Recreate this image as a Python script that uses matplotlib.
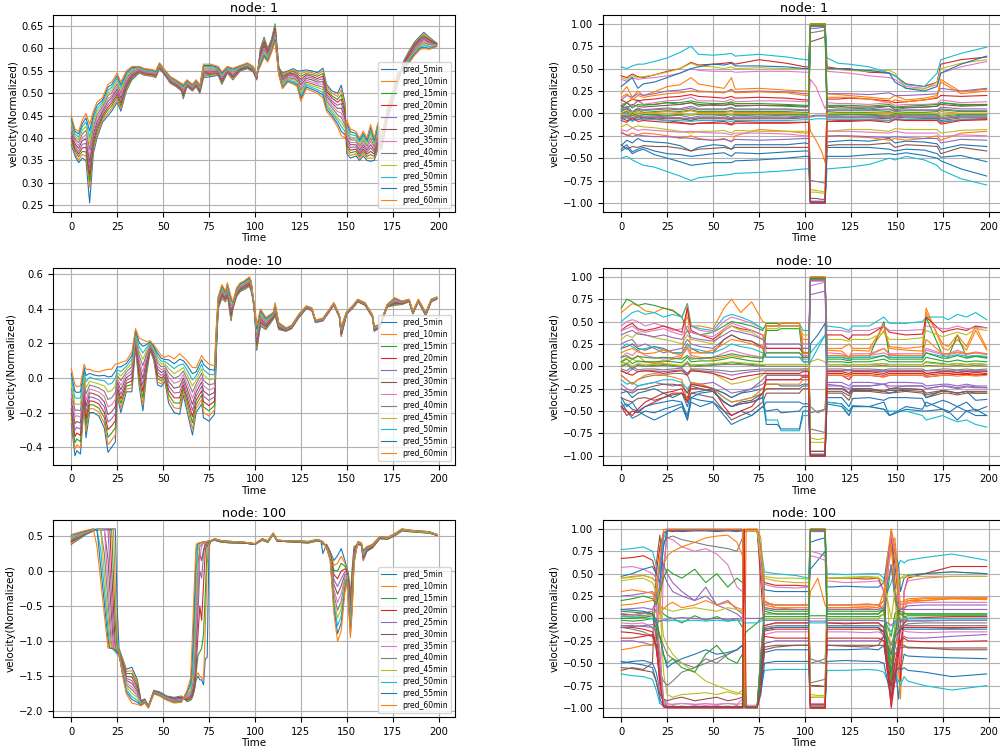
import numpy as np
import matplotlib.pyplot as plt

# legend labels of the 12 prediction horizons
horizons = ['pred_5min', 'pred_10min', 'pred_15min', 'pred_20min', 'pred_25min', 'pred_30min',
            'pred_35min', 'pred_40min', 'pred_45min', 'pred_50min', 'pred_55min', 'pred_60min']

# ---------------- node 1 : predictions (values x1000) ----------------
node1_time = [0, 2, 4, 6, 8, 10, 12, 14, 17, 20, 22, 25, 27, 30, 33, 37, 40, 44, 46, 48, 51, 54, 57, 60, 61,
              63, 66, 68, 70, 72, 76, 80, 82, 85, 88, 92, 96, 99, 101, 103, 105, 107, 109, 111, 113, 115, 118,
              121, 123, 125, 128, 131, 134, 137, 139, 142, 145, 147, 149, 150, 152, 155, 157, 159, 161, 163,
              165, 167, 169, 172, 175, 178, 181, 184, 187, 190, 192, 195, 199]
node1_pred = [
    "385 360 345 355 350 255 365 400 435 450 460 480 460 505 530 545 540 538 535 555 540 522 515 505 488 515 505 515 500 535 537 540 520 545 530 550 555 548 530 600 625 600 620 655 558 545 550 555 550 550 552 550 546 556 520 505 500 518 480 365 355 360 350 360 350 348 350 375 375 440 480 525 572 595 615 628 636 625 612",
    "391 365 351 363 360 290 374 407 440 456 466 486 466 509 533 546 541 539 536 556 541 523 516 507 491 516 506 516 502 538 540 542 523 546 532 551 556 549 531 596 621 597 617 651 556 542 548 552 547 544 548 546 542 550 515 500 493 508 473 372 361 365 355 365 355 355 355 380 377 442 482 527 570 593 612 625 633 623 611",
    "397 371 358 370 369 304 382 415 445 463 472 492 472 513 535 548 543 541 538 557 542 525 518 508 494 518 508 518 503 540 542 544 525 548 535 552 557 550 533 593 617 595 615 648 555 539 545 549 544 538 544 542 538 544 509 494 486 497 465 379 367 370 359 370 359 363 359 386 380 445 485 529 568 590 610 623 629 620 611",
    "403 376 364 378 379 318 391 422 450 469 478 498 478 517 538 549 544 542 539 559 543 526 519 510 497 519 509 519 505 543 545 545 528 549 537 553 559 551 534 589 613 592 612 644 553 535 543 545 540 531 541 538 533 538 504 489 480 487 458 385 373 375 364 375 364 370 364 391 382 447 487 531 567 588 607 620 626 618 610",
    "409 382 370 386 388 332 400 429 455 475 484 504 484 521 541 550 545 543 540 560 544 527 520 511 500 520 510 520 507 546 547 547 530 550 539 554 560 552 535 585 609 589 609 640 551 532 541 542 537 525 537 534 529 532 498 483 473 477 451 392 379 380 368 380 368 378 368 397 384 449 489 533 565 585 604 617 623 615 609",
    "415 387 377 394 398 346 408 436 460 482 490 510 490 525 544 552 547 545 542 561 545 529 522 513 503 522 512 522 508 549 550 549 533 552 542 555 561 553 537 582 605 586 606 637 550 529 539 539 534 519 533 530 525 526 493 478 466 467 444 399 385 385 373 385 373 385 373 402 386 451 491 535 563 583 601 614 620 613 608",
    "420 393 383 401 407 360 417 444 465 488 495 515 495 530 546 553 548 546 543 562 547 530 523 514 505 523 513 523 510 551 552 551 535 553 544 557 562 555 538 578 600 584 604 633 548 526 536 536 531 513 529 525 521 520 487 472 459 456 436 406 390 390 377 390 377 393 377 408 389 454 494 538 561 580 599 612 616 610 608",
    "426 398 390 409 417 374 425 451 470 495 501 521 501 534 549 555 550 548 545 563 548 532 525 516 508 525 515 525 511 554 555 553 538 555 547 558 563 556 540 575 596 581 601 630 547 523 534 533 528 507 525 521 517 514 482 467 452 446 429 413 396 395 382 395 382 400 382 413 391 456 496 540 559 578 596 609 613 608 607",
    "432 404 396 417 426 388 434 458 475 501 507 527 507 538 552 556 551 549 546 564 549 533 526 517 511 526 516 526 513 557 557 555 540 556 549 559 564 557 541 571 592 578 598 626 545 520 532 530 525 501 521 517 513 508 476 461 445 436 422 420 402 400 386 400 386 408 386 419 393 458 498 542 557 575 593 606 610 605 606",
    "438 409 402 425 436 402 443 465 480 507 513 533 513 542 555 557 552 550 547 566 550 534 527 519 514 527 517 527 515 560 560 556 543 557 551 560 566 558 542 567 588 575 595 622 543 516 530 526 521 494 518 513 508 502 471 456 439 426 415 426 408 405 391 405 391 415 391 424 395 460 500 544 555 573 590 603 607 603 605",
    "444 415 409 432 445 416 451 473 485 514 519 539 519 546 557 559 554 552 549 567 551 536 529 520 517 529 519 529 516 562 562 558 545 559 554 561 567 559 544 564 584 573 593 619 542 513 527 523 518 488 514 509 504 496 465 450 432 415 407 433 414 410 395 410 395 423 395 430 398 463 503 546 554 570 588 601 603 600 605",
    "450 420 415 440 455 430 460 480 490 520 525 545 525 550 560 560 555 553 550 568 552 537 530 522 520 530 520 530 518 565 565 560 548 560 556 562 568 560 545 560 580 570 590 615 540 510 525 520 515 482 510 505 500 490 460 445 425 405 400 440 420 415 400 415 400 430 400 435 400 465 505 548 552 568 585 598 600 598 604",
]

# ---------------- node 10 : predictions (values x1000) ----------------
node10_time = [0, 2, 3, 5, 7, 8, 10, 12, 15, 18, 20, 22, 24, 25, 27, 30, 33, 35, 37, 39, 41, 43, 45, 47, 49, 51,
               53, 56, 59, 61, 63, 66, 68, 71, 72, 75, 78, 79, 80, 82, 84, 85, 87, 88, 90, 92, 94, 97, 98, 99,
               100, 101, 103, 106, 110, 111, 113, 117, 120, 124, 128, 131, 133, 137, 141, 143, 146, 147, 150,
               153, 156, 160, 164, 165, 168, 172, 176, 180, 184, 186, 189, 193, 196, 199]
node10_pred = [
    "-265 -450 -420 -440 -150 -345 -200 -200 -220 -290 -430 -400 -370 -100 -200 -80 -80 180 -50 -190 20 160 100 -40 -50 -20 -145 -200 -210 -100 -190 -330 -200 -150 -230 -250 -210 150 400 460 440 480 330 400 470 500 510 530 500 450 350 160 300 280 340 360 280 270 285 350 400 390 320 330 390 420 350 240 370 400 440 420 350 270 290 410 420 425 440 370 440 360 440 455",
    "-236 -413 -386 -404 -129 -309 -177 -178 -197 -260 -386 -359 -329 -84 -174 -64 -59 190 -25 -153 37 165 108 -22 -34 -7 -120 -172 -178 -80 -164 -295 -176 -125 -199 -220 -185 164 406 467 445 486 343 404 475 505 515 535 505 452 355 173 309 286 344 367 284 272 287 352 402 391 321 331 391 421 351 245 371 401 441 421 351 273 292 411 424 427 441 371 441 362 441 456",
    "-207 -375 -353 -368 -108 -273 -155 -156 -174 -229 -343 -318 -288 -67 -147 -47 -38 199 1 -115 55 170 116 -4 -17 5 -95 -144 -146 -60 -137 -259 -153 -99 -168 -190 -159 177 413 475 451 493 355 407 479 509 519 540 511 454 359 185 318 293 347 374 287 274 289 354 403 393 323 333 393 423 353 251 373 403 443 423 353 275 294 413 428 429 443 373 443 364 443 457",
    "-178 -338 -319 -332 -87 -237 -132 -135 -150 -199 -299 -277 -247 -51 -121 -31 -17 209 26 -78 72 175 125 15 -1 18 -70 -115 -115 -40 -111 -224 -129 -74 -137 -160 -134 191 419 482 456 499 368 411 484 514 524 545 516 455 364 198 327 299 351 380 291 275 290 355 405 394 324 334 394 424 354 256 374 404 444 424 354 278 295 414 432 430 444 374 444 365 444 459",
    "-149 -301 -285 -296 -66 -201 -109 -113 -127 -168 -255 -236 -206 -35 -95 -15 4 218 52 -41 89 180 133 33 15 31 -45 -87 -83 -20 -85 -188 -105 -48 -106 -130 -108 205 425 489 462 505 381 415 488 518 528 550 522 457 368 211 336 305 355 387 295 277 292 357 406 395 325 335 395 425 355 262 375 405 445 425 355 281 297 415 436 432 445 375 445 367 445 460",
    "-120 -264 -252 -260 -45 -165 -86 -91 -104 -138 -212 -195 -165 -18 -68 2 25 228 77 -4 106 185 141 51 32 44 -20 -59 -51 0 -58 -153 -82 -23 -75 -100 -83 218 432 496 467 512 394 418 493 523 533 555 527 459 373 224 345 312 358 394 298 279 294 359 408 397 327 337 397 427 357 267 377 407 447 427 357 284 299 417 440 434 447 377 447 369 447 461",
    "-90 -226 -218 -225 -25 -130 -64 -69 -81 -107 -168 -155 -125 -2 -42 18 45 237 103 34 124 190 149 69 48 56 5 -31 -19 20 -32 -117 -58 3 -45 -70 -57 232 438 504 473 518 406 422 497 527 537 560 533 461 377 236 355 318 362 401 302 281 296 361 409 398 328 338 398 428 358 273 378 408 448 428 358 286 301 418 445 436 448 378 448 371 448 462",
    "-61 -189 -185 -189 -4 -94 -41 -47 -58 -77 -125 -114 -84 15 -15 35 66 247 128 71 141 195 157 87 65 69 30 -3 13 40 -5 -82 -35 28 -14 -40 -32 245 445 511 478 525 419 425 502 532 542 565 538 463 382 249 364 325 365 408 305 283 298 363 411 400 330 340 400 430 360 278 380 410 450 430 360 289 303 420 449 438 450 380 450 373 450 463",
    "-32 -152 -151 -153 17 -58 -18 -25 -35 -46 -81 -73 -43 31 11 51 87 256 154 108 158 200 165 105 81 82 55 25 45 60 21 -46 -11 54 17 -10 -6 259 451 518 484 531 432 429 506 536 546 570 544 465 386 262 373 331 369 415 309 285 300 365 412 401 331 341 401 431 361 284 381 411 451 431 361 292 305 421 453 440 451 381 451 375 451 464",
    "-3 -115 -117 -117 38 -22 5 -4 -11 -16 -37 -32 -2 47 37 67 108 266 179 145 175 205 174 124 97 95 80 54 76 80 47 -11 13 79 48 20 19 273 457 525 489 537 445 433 511 541 551 575 549 466 391 275 382 337 373 421 313 286 301 366 414 402 332 342 402 432 362 289 382 412 452 432 362 295 306 422 457 441 452 382 452 376 452 466",
    "26 -77 -84 -81 59 14 27 18 12 15 6 9 39 64 64 84 129 275 205 183 193 210 182 142 114 107 105 82 108 100 74 25 36 105 79 50 45 286 464 533 495 544 457 436 515 545 555 580 555 468 395 287 391 344 376 428 316 288 303 368 415 404 334 344 404 434 364 295 384 414 454 434 364 297 308 424 461 443 454 384 454 378 454 467",
    "55 -40 -50 -45 80 50 50 40 35 45 50 50 80 80 90 100 150 285 230 220 210 215 190 160 130 120 130 110 140 120 100 60 60 130 110 80 70 300 470 540 500 550 470 440 520 550 560 585 560 470 400 300 400 350 380 435 320 290 305 370 417 405 335 345 405 435 365 300 385 415 455 435 365 300 310 425 465 445 455 385 455 380 455 468",
]

# ---------------- node 100 : predictions (values x100) ----------------
node100_time = [0, 4, 8, 12, 14, 16, 18, 20, 21, 22, 23, 24, 25, 26, 28, 30, 33, 36, 38, 40, 42, 45, 48, 52, 56,
                60, 63, 65, 66, 67, 68, 69, 70, 71, 72, 73, 74, 75, 76, 78, 82, 88, 94, 100, 104, 107, 110, 112,
                117, 123, 129, 134, 136, 137, 139, 141, 143, 145, 147, 149, 150, 151, 152, 153, 154, 156, 158,
                159, 161, 164, 168, 172, 176, 180, 185, 190, 195, 199]
node100_pred = [
    "38 45 52 57 60 60 60 60 60 60 60 60 -53 -110 -125 -140 -137 -155 -185 -182 -192 -170 -172 -178 -180 -178 -186 -184 -180 -170 -155 -150 -155 -155 -162 -125 -123 35 42 44 41 40 40 38 44 41 52 43 42 41 40 43 42 25 38 28 15 22 32 15 5 -5 -35 5 35 38 36 15 28 33 46 45 50 57 56 55 54 51",
    "39 46 53 57 59 59 59 59 59 59 59 -26 -110 -113 -127 -143 -142 -158 -186 -183 -192 -170 -173 -179 -181 -179 -185 -183 -178 -165 -150 -145 -150 -152 -155 -80 10 40 43 44 41 40 40 38 44 41 52 43 42 41 40 43 42 38 38 27 8 11 21 11 3 -9 -40 0 33 38 36 16 29 33 46 45 50 57 56 55 54 51",
    "41 47 53 58 59 59 59 59 59 59 -9 -77 -110 -115 -130 -146 -146 -161 -186 -183 -193 -171 -173 -179 -181 -180 -184 -182 -177 -170 -145 -120 -115 -110 -90 -30 35 42 43 44 41 40 40 38 44 41 52 43 42 41 40 43 42 38 37 26 1 0 11 7 1 -13 -46 -6 30 39 37 18 29 34 47 46 51 58 56 55 54 51",
    "42 48 54 58 59 59 59 59 59 2 -54 -110 -114 -117 -132 -150 -151 -165 -187 -184 -193 -171 -174 -180 -182 -180 -183 -180 -175 -165 -135 -90 -50 -70 -20 30 40 42 43 45 42 41 40 38 45 42 53 43 42 42 41 44 42 39 37 24 -5 -11 0 3 0 -17 -51 -11 28 39 37 19 30 34 47 46 51 58 57 56 55 51",
    "43 49 54 58 59 59 59 59 10 -38 -86 -110 -115 -118 -134 -153 -156 -168 -188 -184 -193 -171 -174 -180 -183 -181 -182 -179 -172 -160 -120 -60 0 -10 25 38 42 43 43 45 42 41 40 38 45 42 53 43 42 42 41 44 42 39 36 23 -12 -22 -11 -1 -2 -21 -57 -17 26 40 38 20 31 35 47 46 51 58 57 56 55 51",
    "44 50 55 58 59 59 59 17 -26 -68 -110 -113 -116 -120 -136 -156 -160 -171 -188 -185 -193 -172 -175 -181 -184 -182 -181 -177 -170 -155 -100 -30 25 15 30 40 42 43 43 45 42 41 40 38 45 42 53 43 42 42 41 44 42 40 36 22 -19 -33 -21 -5 -4 -25 -62 -22 24 40 38 22 31 35 47 46 51 58 57 56 55 51",
    "46 50 55 59 59 59 59 -17 -54 -92 -110 -113 -116 -120 -139 -159 -165 -174 -189 -185 -194 -173 -175 -181 -184 -183 -180 -175 -165 -145 -80 -20 20 35 40 41 42 43 43 45 42 41 41 39 45 42 53 44 43 42 41 44 43 40 35 21 -26 -45 -32 -10 -6 -30 -68 -28 21 40 38 23 32 36 48 47 52 59 57 56 55 52",
    "47 51 56 59 59 59 25 -43 -77 -110 -112 -115 -118 -120 -141 -162 -169 -177 -190 -186 -194 -173 -176 -182 -185 -184 -178 -172 -160 -130 -50 10 35 38 40 42 42 43 43 45 42 41 41 39 45 42 53 44 43 42 41 44 43 40 35 20 -33 -56 -43 -14 -8 -34 -73 -33 19 40 38 25 32 36 48 47 52 59 57 56 55 52",
    "48 52 56 59 59 59 -3 -65 -96 -110 -112 -115 -118 -120 -143 -165 -174 -180 -190 -186 -194 -173 -176 -182 -186 -185 -176 -170 -155 -110 -30 30 39 40 41 42 42 43 43 46 43 42 41 39 46 43 54 44 43 43 42 45 43 41 34 19 -40 -67 -53 -18 -9 -38 -79 -39 17 41 39 26 33 37 48 47 52 59 57 56 55 52",
    "49 53 57 59 59 31 -26 -82 -110 -110 -112 -115 -118 -120 -145 -169 -179 -184 -191 -187 -194 -174 -177 -183 -187 -185 -174 -165 -145 -80 0 38 40 41 41 42 42 43 43 46 43 42 41 39 46 43 54 44 43 43 42 45 43 41 34 17 -46 -78 -64 -22 -11 -42 -84 -44 15 41 39 27 34 37 48 47 52 59 58 57 56 52",
    "51 54 57 60 59 7 -46 -98 -110 -110 -110 -112 -115 -118 -148 -172 -183 -187 -191 -187 -195 -174 -177 -183 -187 -186 -172 -160 -120 -50 30 39 40 41 41 42 42 43 43 46 43 42 41 39 46 43 54 44 43 43 42 45 43 42 33 16 -53 -89 -74 -26 -13 -46 -90 -50 12 42 40 29 34 38 49 48 53 60 58 57 56 52",
    "52 55 58 60 35 -13 -62 -110 -100 -105 -110 -110 -112 -115 -150 -175 -188 -190 -192 -188 -195 -175 -178 -184 -188 -187 -170 -152 -90 -20 38 40 40 41 41 42 42 43 43 46 43 42 41 39 46 43 54 44 43 43 42 45 43 42 33 15 -60 -100 -85 -30 -15 -50 -95 -55 10 42 40 30 35 38 49 48 53 60 58 57 56 52",
]

# ---------------- node 1 : hidden units (values x100) ----------------
node1_unit_time = [0, 3, 6, 9, 12, 18, 25, 32, 38, 42, 50, 56, 60, 62, 75, 90, 100, 102, 103, 106, 109, 111, 112,
                   118, 124, 135, 146, 149, 155, 165, 172, 174, 185, 199]
node1_units = [
    "-36 -30 -33 -28 -31 -32 -33 -36 -42 -38 -35 -36 -40 -35 -35 -35 -33 -34 -99 -99 -99 -99 -32 -31 -30 -31 -28 -33 -31 -32 -34 -40 -35 -37",
    "22 30 18 25 20 24 30 32 40 33 30 28 40 27 28 26 25 25 99 99 99 99 22 21 20 18 16 20 15 17 20 38 24 27",
    "5 12 8 15 10 10 12 10 12 8 10 9 12 8 9 8 7 8 98 98 98 98 7 6 6 5 8 4 6 7 8 12 9 10",
    "42 40 44 41 40 43 47 50 57 54 55 56 57 55 60 56 52 52 100 100 100 100 52 50 50 46 45 42 33 30 35 55 60 63",
    "15 20 18 22 20 22 25 26 28 25 24 23 27 24 25 24 22 22 97 97 97 97 22 22 22 21 23 20 20 21 22 28 25 28",
    "-35 -40 -37 -38 -36 -37 -37 -39 -42 -40 -39 -38 -40 -38 -38 -38 -38 -38 -99 -99 -99 -99 -36 -35 -35 -35 -33 -38 -35 -36 -37 -45 -38 -42",
    "38 36 40 38 39 40 42 45 50 48 47 47 47 46 47 47 46 46 99 99 99 99 47 46 45 42 40 38 30 28 32 45 52 58",
    "-2 -5 0 -3 -1 -2 -3 -2 -5 -3 -3 -2 -5 -2 -3 -2 -2 -2 -75 -76 -77 -78 -2 -2 -1 -2 -3 -1 -2 -2 -2 -5 -2 -2",
    "40 38 42 40 41 43 46 50 56 53 52 50 52 50 51 50 50 50 99 99 99 99 49 49 48 47 48 45 28 27 35 50 56 60",
    "52 50 53 55 55 58 62 68 75 66 65 66 67 64 66 63 60 60 99 99 99 99 62 56 55 52 45 42 32 30 45 60 67 74",
    "30 35 40 28 33 35 40 45 50 52 55 54 56 53 53 52 50 50 100 100 100 100 50 50 49 48 45 35 28 25 30 45 55 64",
    "-20 -25 -22 -24 -22 -23 -25 -28 -25 -28 -30 -28 -32 -25 -18 -20 -22 -22 -99 -99 -99 -99 -25 -25 -26 -27 -30 -28 -30 -28 -25 -30 -22 -20",
    "2 5 0 4 1 2 3 2 4 2 2 2 3 2 2 2 1 1 100 100 100 100 2 1 1 1 2 0 1 1 2 4 2 2",
    "-5 -8 -6 -7 -5 -6 -8 -10 -12 -11 -10 -9 -12 -9 -10 -10 -10 -10 -100 -100 -100 -100 -9 -8 -8 -7 -8 -6 -7 -6 -6 -10 -7 -6",
    "-22 -24 -26 -24 -25 -26 -26 -27 -28 -29 -30 -29 -31 -29 -30 -29 -28 -28 -98 -98 -98 -98 -26 -25 -25 -26 -27 -26 -27 -28 -28 -33 -29 -30",
    "8 6 10 8 7 8 9 10 12 10 9 9 10 9 9 9 8 8 80 82 84 86 8 8 7 7 8 6 7 7 8 10 8 9",
    "10 12 8 14 10 12 14 15 18 14 14 13 16 13 14 14 13 13 38 30 15 5 12 11 11 10 12 9 10 10 11 15 12 13",
    "-3 0 -5 -2 -3 -3 -4 -5 -8 -5 -5 -4 -6 -4 -4 -4 -3 -3 -3 -2 -2 -2 -3 -3 -3 -3 -4 -2 -3 -3 -3 -6 -3 -3",
    "-15 -12 -16 -14 -15 -16 -18 -20 -22 -20 -20 -19 -22 -19 -20 -20 -20 -20 -85 -86 -87 -88 -20 -19 -18 -18 -20 -17 -18 -18 -18 -22 -19 -18",
    "-50 -48 -52 -55 -58 -60 -65 -70 -75 -72 -70 -69 -68 -67 -66 -64 -62 -62 -99 -99 -99 -99 -62 -61 -60 -57 -50 -52 -48 -52 -58 -63 -73 -80",
    "-40 -35 -43 -40 -38 -42 -45 -46 -48 -47 -45 -44 -48 -44 -45 -43 -42 -42 -100 -100 -100 -100 -38 -38 -38 -38 -40 -42 -40 -41 -45 -49 -47 -54",
    "0 3 -2 2 0 1 2 1 3 1 1 1 2 1 1 1 0 0 -20 -30 -42 -55 0 0 0 0 1 -1 0 0 0 2 0 0",
    "-1 2 -3 0 -1 -1 -2 -1 -2 -1 -1 -1 -2 -1 -1 -1 -1 -1 99 99 99 99 -1 -1 -1 -1 -2 0 -1 -1 -1 -3 -1 -1",
    "15 12 16 14 15 16 18 19 21 19 18 17 19 17 18 17 15 15 -99 -99 -99 -99 16 16 17 16 14 12 13 15 17 20 19 20",
    "4 8 2 6 4 5 6 5 8 5 5 5 7 5 5 5 4 4 95 95 96 96 4 4 4 4 5 3 4 4 4 7 5 5",
    "-5 -3 -8 -4 -5 -5 -6 -6 -8 -6 -6 -6 -7 -6 -6 -6 -5 -5 -95 -95 -96 -96 -5 -5 -5 -5 -6 -4 -5 -5 -5 -8 -5 -5",
    "-18 -20 -16 -19 -18 -19 -20 -21 -20 -21 -22 -22 -24 -22 -22 -23 -25 -25 -99 -99 -99 -99 -20 -20 -20 -21 -22 -20 -22 -22 -22 -26 -24 -25",
    "3 6 1 5 3 4 5 4 6 4 4 4 6 4 4 4 3 3 90 91 92 93 3 3 3 3 4 2 3 3 3 5 3 3",
    "0 -3 2 -1 0 0 -1 0 -2 0 0 0 -1 0 0 0 0 0 -88 -88 -89 -89 0 0 0 0 -1 1 0 0 0 -2 0 0",
    "-7 -5 -9 -6 -7 -7 -8 -8 -9 -8 -8 -8 -9 -8 -8 -8 -7 -7 -7 -6 -6 -6 -7 -7 -7 -7 -8 -6 -7 -7 -7 -9 -7 -7",
    "-42 -38 -45 -42 -40 -46 -50 -54 -58 -57 -55 -55 -55 -53 -52 -50 -48 -48 -99 -99 -99 -99 -48 -48 -48 -46 -45 -46 -44 -47 -50 -53 -62 -70",
    "18 22 15 20 18 20 22 23 25 24 24 23 26 23 24 23 20 20 100 100 100 100 18 18 18 16 12 15 13 15 18 35 22 25",
    "8 12 6 10 9 10 12 12 14 12 11 11 13 11 11 10 9 9 98 98 98 98 9 9 9 8 10 7 8 9 10 12 10 10",
    "-8 -10 -5 -9 -8 -9 -10 -11 -12 -11 -11 -11 -13 -11 -11 -11 -10 -10 -100 -100 -100 -100 -9 -9 -9 -8 -10 -7 -8 -8 -8 -12 -8 -7",
    "-4 -2 -6 -3 -4 -4 -5 -5 -6 -5 -5 -5 -6 -5 -5 -5 -4 -4 -4 -3 -3 -3 -4 -4 -4 -4 -5 -3 -4 -4 -4 -6 -4 -4",
]

# ---------------- node 10 : hidden units (values x100) ----------------
node10_unit_time = [0, 3, 6, 9, 13, 18, 23, 28, 33, 36, 38, 43, 50, 56, 60, 65, 71, 77, 79, 85, 87, 97, 99, 102,
                    103, 107, 111, 112, 120, 124, 126, 135, 143, 146, 155, 164, 166, 175, 178, 183, 188, 193, 199]
node10_units = [
    "-35 -45 -40 -50 -55 -60 -55 -50 -45 -60 -40 -45 -40 -50 -55 -50 -55 -45 -50 -48 -52 -50 -45 -45 -99 -99 -99 -40 -42 -50 -44 -45 -40 -55 -45 -48 -40 -48 -52 -45 -50 -48 -55",
    "60 65 70 68 62 60 65 63 55 70 45 45 42 65 75 60 72 50 48 48 45 45 30 30 100 100 100 18 17 10 18 17 40 20 18 17 65 20 18 30 18 40 18",
    "65 75 72 68 70 68 65 62 55 40 38 35 38 45 50 48 45 40 48 48 45 45 15 15 99 99 99 10 10 8 10 10 50 10 10 10 55 12 10 35 10 12 10",
    "-45 -55 -50 -52 -45 -40 -35 -30 -30 -35 -25 -25 -28 -40 -45 -42 -40 -35 -10 -10 -10 -10 -10 -10 -100 -100 -100 -10 -10 -15 -10 -10 -12 -10 -10 -10 -12 -10 -10 -9 -9 -10 -9",
    "25 28 30 22 25 20 15 18 20 30 25 22 20 30 35 30 28 22 20 20 20 20 20 20 97 97 97 -20 -22 -30 -22 -22 -20 -25 -22 -22 -25 -22 -23 -25 -23 -24 -24",
    "20 22 25 20 18 22 20 15 15 25 20 15 15 30 35 30 28 20 10 10 10 10 10 10 -95 -95 -95 -30 -30 -38 -28 -28 -30 -30 -28 -30 -35 -30 -30 -32 -30 -30 -30",
    "45 50 52 50 45 48 45 40 42 55 45 40 38 50 55 52 48 42 45 45 45 45 25 25 95 95 95 15 14 10 14 14 20 14 14 14 20 14 14 18 14 16 14",
    "-10 -15 -20 -15 -12 -10 -10 -8 -8 -10 -20 -20 -25 -30 -35 -30 -25 -15 -10 -10 -10 -10 -12 -12 -45 -52 -48 -5 -5 -5 -5 -5 -5 -5 -5 -5 -5 -5 -5 -5 -5 -5 -5",
    "5 3 8 5 5 4 3 2 0 5 -3 -5 -8 -15 -20 -18 -15 -10 -5 -5 -5 -5 -3 -3 5 8 5 0 0 0 0 0 0 0 0 0 0 0 0 0 0 0 0",
    "50 55 60 62 58 60 55 58 55 70 45 42 40 55 58 55 50 42 45 45 48 48 40 40 15 25 35 45 43 40 45 45 55 48 48 50 55 55 52 58 55 60 52",
    "-30 -28 -35 -30 -28 -25 -30 -35 -30 -45 -30 -28 -25 -30 -35 -30 -28 -25 -20 -20 -22 -22 -20 -20 25 35 48 -25 -25 -30 -25 -25 -28 -30 -25 -26 -35 -27 -28 -30 -28 -38 -37",
    "5 10 8 12 5 3 5 8 10 68 12 10 8 10 12 10 12 10 45 45 48 48 12 12 99 99 99 20 20 25 20 20 45 22 20 22 60 25 22 35 22 45 20",
    "0 3 -3 2 0 1 2 1 -1 5 0 1 2 3 4 3 2 1 2 2 2 2 2 2 99 99 99 2 2 1 2 2 3 2 2 2 5 3 2 3 2 3 2",
    "40 45 48 42 40 42 45 42 38 65 40 35 30 40 45 42 40 35 20 20 20 20 15 15 -100 -100 -100 35 35 30 35 35 45 38 35 36 55 38 40 42 40 45 43",
    "-20 -25 -28 -22 -20 -18 -20 -22 -20 -30 -18 -20 -18 -25 -30 -28 -25 -20 -15 -15 -15 -15 -15 -15 -98 -98 -98 -18 -18 -22 -18 -18 -20 -18 -18 -19 -22 -20 -20 -22 -20 -22 -22",
    "-35 -38 -40 -36 -35 -38 -35 -32 -30 -40 -30 -32 -35 -50 -60 -55 -50 -40 -30 -30 -30 -30 -25 -25 -100 -100 -100 -25 -25 -30 -26 -25 -28 -25 -25 -26 -30 -27 -28 -30 -28 -30 -30",
    "10 15 12 18 12 10 8 10 12 20 10 8 10 15 18 15 12 10 10 10 10 10 8 8 90 92 94 12 12 10 12 12 15 12 12 12 18 13 13 15 13 15 13",
    "-3 -5 0 -4 -3 -3 -4 -3 -2 -8 -3 -3 -4 -5 -6 -5 -4 -3 -3 -3 -3 -3 -3 -3 -70 -72 -74 -3 -3 -4 -3 -3 -4 -3 -3 -3 -5 -3 -3 -4 -3 -4 -3",
    "30 35 32 38 35 32 30 28 25 35 30 28 25 40 45 40 38 30 42 42 45 45 35 35 -85 -85 -85 30 30 28 30 30 38 30 30 32 40 33 35 38 35 42 40",
    "-15 -20 -18 -22 -20 -18 -15 -15 -18 -25 -20 -22 -25 -35 -40 -38 -35 -30 -60 -60 -72 -72 -55 -55 -99 -99 -99 -40 -42 -55 -45 -45 -48 -50 -50 -55 -60 -55 -58 -62 -60 -65 -68",
    "-40 -50 -58 -55 -50 -52 -48 -45 -42 -55 -35 -38 -40 -55 -65 -60 -55 -45 -40 -40 -40 -40 -42 -42 -100 -100 -100 -42 -45 -55 -45 -45 -48 -55 -48 -50 -50 -48 -50 -60 -50 -55 -55",
    "-10 -15 -20 -15 -10 -8 -10 -12 -15 -40 -18 -20 -25 -35 -40 -38 -35 -25 -20 -20 -20 -20 -15 -15 -99 -99 -99 -10 -10 -12 -10 -10 -12 -10 -10 -10 -12 -10 -10 -11 -10 -11 -10",
    "5 8 3 6 5 5 6 5 4 10 5 6 6 8 10 8 6 5 40 40 42 42 5 5 98 98 98 5 5 4 5 5 8 5 5 5 10 6 5 7 5 6 5",
    "-45 -50 -55 -48 -40 -35 -30 -28 -25 -40 -20 -22 -25 -45 -55 -50 -45 -30 -15 -15 -15 -15 -12 -12 -100 -100 -100 -8 -8 -10 -8 -8 -10 -8 -8 -8 -10 -8 -8 -9 -8 -9 -8",
    "-5 -8 -3 -6 -5 -5 -6 -5 -4 -8 -5 -5 -6 -8 -10 -8 -6 -5 -5 -5 -5 -5 -5 -5 80 82 84 -5 -5 -4 -5 -5 -6 -5 -5 -5 -8 -6 -5 -7 -5 -6 -5",
    "-25 -28 -30 -26 -25 -22 -20 -20 -22 -30 -22 -25 -28 -40 -45 -40 -38 -30 -25 -25 -25 -25 -22 -22 -95 -95 -95 -28 -28 -33 -27 -27 -28 -27 -27 -28 -32 -28 -28 -30 -28 -28 -28",
    "40 42 45 40 38 40 42 38 35 45 38 35 33 42 48 45 40 35 15 15 15 15 12 12 98 98 98 40 40 38 40 40 45 40 40 41 45 42 42 45 42 43 43",
    "0 2 -2 1 0 0 1 0 -1 3 0 0 1 2 2 2 1 0 0 0 0 0 0 0 -52 -50 -48 0 0 0 0 0 1 0 0 0 1 0 0 1 0 1 0",
    "2 4 0 3 2 2 3 2 1 5 2 2 3 4 5 4 3 2 2 2 2 2 2 2 -80 -82 -80 2 2 1 2 2 3 2 2 2 4 2 2 3 2 3 2",
    "20 25 22 18 20 22 18 15 15 25 20 18 15 20 25 22 20 15 10 10 10 10 5 5 5 20 35 10 10 8 10 10 12 10 10 10 15 11 11 13 11 12 11",
    "-45 -42 -48 -50 -45 -42 -40 -38 -40 -60 -35 -30 -28 -40 -45 -42 -40 -35 -65 -65 -70 -70 -50 -50 -99 -99 -99 -35 -35 -45 -36 -35 -38 -35 -35 -36 -45 -38 -40 -45 -40 -50 -45",
    "15 18 20 16 14 15 18 15 12 22 15 15 18 25 30 28 25 20 45 45 48 48 15 15 100 100 100 12 12 10 12 12 20 13 12 12 30 14 14 16 14 15 14",
    "10 12 8 11 10 9 10 9 8 12 8 9 10 12 14 12 10 9 15 15 15 15 10 10 98 98 98 8 8 6 8 8 12 8 8 8 15 9 9 12 9 11 9",
    "-5 -8 -10 -6 -5 -6 -8 -6 -5 -10 -5 -6 -8 -12 -15 -12 -10 -8 -8 -8 -8 -8 -6 -6 -100 -100 -100 -6 -6 -8 -6 -6 -8 -6 -6 -6 -8 -6 -6 -7 -6 -7 -6",
    "35 38 40 36 35 33 35 32 30 40 32 30 28 35 40 38 35 30 25 25 25 25 20 20 96 96 96 -22 -22 -25 -22 -22 -20 -22 -22 -22 -25 -22 -22 -24 -22 -23 -24",
]

# ---------------- node 100 : hidden units (values x100) ----------------
node100_unit_time = [0, 6, 12, 17, 19, 21, 23, 25, 28, 33, 40, 46, 52, 58, 63, 66, 67, 68, 71, 74, 76, 78, 84, 95,
                     102, 103, 107, 111, 112, 122, 134, 140, 143, 145, 147, 149, 151, 152, 154, 156, 165, 180, 199]
node100_units = [
    "-50 -48 -47 -50 -60 -80 -95 -99 -99 -99 -99 -99 -99 -99 -99 -99 -99 -99 -99 -99 -80 -38 -35 -35 -35 -99 -99 -99 -35 -35 -34 -35 -30 -60 -75 -50 -90 -60 -40 -42 -43 -44 -45",
    "45 47 48 45 40 60 95 99 99 99 99 99 99 99 99 99 99 99 99 99 80 20 12 10 10 99 99 99 12 12 13 12 30 60 90 40 -60 -90 10 18 20 22 22",
    "8 7 6 5 8 10 5 2 0 -5 3 -2 2 -3 0 -10 -20 -15 -10 -5 0 2 2 2 2 3 3 3 2 2 2 2 5 -10 -20 5 10 -5 2 3 3 3 3",
    "67 68 70 65 50 80 95 98 97 98 98 98 98 98 98 98 98 98 98 98 70 40 37 37 36 100 100 100 45 45 44 45 30 -40 -80 -30 -20 -70 30 45 50 58 58",
    "-25 -25 -27 -30 -20 30 50 40 30 25 20 35 15 20 10 5 -50 -99 -99 -99 -60 -28 -25 -25 -25 -97 -97 -97 -25 -25 -25 -25 -20 -35 -45 -30 -40 -25 -20 -22 -22 -20 -18",
    "-58 -55 -57 -50 60 93 50 98 98 97 98 98 97 98 97 98 -99 -99 -99 -99 -70 -35 -32 -30 -30 -75 -76 -76 -30 -31 -32 -30 -20 60 98 40 -10 -30 -30 -33 -33 -35 -35",
    "57 58 55 50 45 -95 60 90 88 80 75 78 72 60 35 30 95 98 98 98 70 38 35 34 35 75 73 70 42 40 41 42 30 -50 -98 -60 -30 -50 30 42 45 47 47",
    "5 4 3 5 10 40 85 90 92 88 85 82 80 78 75 90 -99 -99 -99 -99 -40 -8 -5 -5 -5 -50 -48 -45 -5 -5 -5 -5 -10 -40 -60 -30 -20 -10 -5 -3 -3 -2 -2",
    "42 44 45 40 30 20 -60 -85 -88 -85 -84 -83 -85 -82 -85 -80 98 98 98 98 70 45 42 40 40 -88 -88 -88 45 46 47 46 40 20 -50 -10 30 45 48 49 50 52 50",
    "77 78 80 75 60 50 90 98 99 99 99 99 99 99 99 99 99 99 99 99 80 52 50 48 45 99 99 99 50 49 50 50 45 30 40 55 60 65 62 65 68 72 65",
    "47 50 55 58 50 40 80 98 99 98 99 99 98 99 98 99 99 99 99 99 70 32 30 30 30 55 65 75 35 36 35 35 40 70 90 75 60 30 45 48 50 52 50",
    "-35 -33 -30 -30 -20 10 60 70 75 80 85 90 92 93 85 70 99 99 99 99 60 15 12 12 12 30 45 15 12 12 13 12 20 50 80 90 40 10 15 20 22 23 23",
    "-2 -3 -2 0 -10 -40 -90 -98 -99 -98 -99 -98 -99 -98 -99 -98 98 99 99 99 60 8 5 5 5 99 99 99 5 5 5 5 10 -30 -70 -20 10 5 2 0 0 0 0",
    "-15 -16 -18 -20 -30 -60 -95 -99 -98 -99 -98 -99 -98 -99 -98 -99 -99 -99 -99 -99 -60 -8 -5 -5 -5 -100 -100 -100 -5 -6 -5 -5 -10 -50 -90 -70 -40 -30 -5 0 1 2 2",
    "25 26 28 30 25 35 60 50 40 30 20 25 15 10 5 0 98 98 98 98 60 18 15 15 15 97 97 97 15 15 16 15 10 -20 -40 -20 5 10 12 14 15 15 15",
    "5 4 6 8 -20 -50 -98 -99 -99 -99 -99 -99 -99 -99 -99 -99 -99 -99 -99 -99 -50 -12 -10 -10 -10 -96 -96 -96 -10 -10 -10 -10 -20 50 98 60 20 -10 -10 -10 -10 -11 -10",
    "-5 -6 -5 -10 -30 -70 -90 -95 -96 -95 -96 -95 -96 -95 -96 -95 -95 -97 -97 -97 -50 -18 -15 -15 -15 -95 -95 -95 -15 -15 -16 -15 -18 -30 -40 -30 -20 -15 -14 -15 -16 -15 -15",
    "-10 -12 -15 -20 -35 -60 -70 -75 -70 -60 -55 -50 -45 -40 -35 -30 -99 -99 -99 -99 -50 -12 -10 -10 -10 -45 -48 -50 -10 -10 -10 -10 -15 -30 -50 -30 -15 -10 -8 -6 -5 -5 -5",
    "0 1 2 5 8 10 12 10 8 10 12 10 8 12 10 8 -30 -99 -99 -99 -40 0 0 0 0 -88 -88 -88 0 0 0 0 5 -20 -40 -10 5 0 0 0 0 0 0",
    "-62 -64 -65 -68 -80 -95 -98 -99 -99 -99 -99 -99 -99 -99 -99 -99 -99 -99 -99 -99 -80 -58 -57 -57 -57 -99 -99 -99 -58 -58 -57 -58 -60 -70 -80 -65 -70 -75 -65 -70 -75 -80 -75",
    "-48 -50 -52 -55 -70 -90 -98 -99 -98 -99 -98 -99 -98 -99 -98 -99 -99 -99 -99 -99 -85 -50 -48 -48 -48 -99 -99 -99 -48 -47 -48 -48 -50 -70 -90 -60 -55 -58 -55 -58 -60 -65 -62",
    "30 32 30 28 20 15 10 15 18 12 15 20 15 18 12 10 -99 -99 -99 -99 -40 12 10 10 10 -99 -99 -99 10 10 11 10 15 50 80 30 10 15 18 20 20 22 21",
    "20 22 25 22 15 30 45 55 50 45 55 40 50 35 45 40 98 98 98 98 60 10 8 8 8 99 99 99 8 8 8 8 10 30 60 20 10 8 6 5 5 5 5",
    "-22 -22 -20 -18 -30 -70 -98 -99 -99 -99 -99 -99 -99 -99 -99 -99 98 99 99 99 40 -20 -22 -22 -22 -100 -100 -100 -22 -22 -22 -22 -25 -60 -90 -50 -30 -25 -22 -25 -26 -26 -25",
    "10 11 12 10 20 60 95 99 99 99 99 99 99 99 99 99 -98 -99 -99 -99 -40 12 10 10 10 98 98 98 10 10 10 10 12 40 60 30 10 10 10 10 10 10 10",
    "-55 -56 -58 -60 -70 -85 -90 -92 -90 -88 -92 -90 -88 -92 -90 -88 -99 -99 -99 -99 -60 -32 -30 -30 -30 -75 -75 -76 -30 -30 -30 -30 -30 -50 -60 -40 -35 -33 -32 -32 -33 -33 -33",
    "3 4 5 8 15 -40 -95 -97 -96 -95 -96 -97 -96 -95 -96 -90 97 98 98 98 60 16 15 15 15 70 68 65 15 15 15 15 20 50 95 70 30 15 16 17 18 18 18",
    "-8 -8 -9 -10 -15 -20 -30 -40 -45 -50 -55 -45 -50 -40 -35 -30 -98 -99 -99 -99 -50 -10 -8 -8 -8 -72 -70 -68 -8 -8 -8 -8 -10 -20 -30 -15 -10 -8 -8 -8 -8 -8 -8",
    "45 46 48 45 40 20 -20 -30 -40 -50 -60 -70 -75 -80 -83 -85 98 98 98 98 70 47 45 45 44 -85 -86 -86 45 45 46 45 40 20 0 30 40 45 46 47 47 47 47",
    "2 2 1 0 -2 -3 -2 -3 -2 -3 -2 -3 -2 -3 -2 -3 -5 -5 -5 -5 -3 -2 -2 -2 -2 -5 -5 -5 -2 -2 -2 -2 -3 -10 -15 -5 -2 -2 -1 0 0 0 0",
    "10 9 8 5 -5 -20 -40 -55 -50 -45 -40 -35 -40 -38 -35 -30 -99 -99 -99 -99 -60 -12 -10 -10 -10 85 88 90 -10 -10 -10 -10 -15 -30 -40 -20 -15 -12 -12 -12 -12 -12 -12",
    "15 16 18 20 30 70 99 100 100 100 100 100 100 100 100 100 -100 100 100 100 90 18 15 15 15 100 100 100 15 15 16 15 20 70 100 80 20 18 20 22 23 23 23",
    "0 0 1 3 0 -20 -40 -50 -45 -55 -60 -40 -30 -45 -50 -40 -99 -99 -99 -99 -50 5 5 5 5 99 99 99 5 5 5 5 10 -30 -60 -20 5 5 5 5 5 5 5",
    "-10 -10 -12 -15 -30 -70 -99 -100 -100 -100 -100 -100 -100 -100 -100 -100 100 -100 -100 -100 -80 -14 -12 -12 -12 -100 -100 -100 -12 -12 -12 -12 -15 -60 -100 -70 -30 -12 -10 -10 -10 -10 -10",
    "-10 -9 -8 -7 -5 -3 -2 -1 0 1 0 -1 0 -1 0 -1 0 0 0 0 0 -2 -2 -2 -2 -3 -3 -3 -2 -2 -2 -2 -3 -5 -8 -3 -2 -2 -2 -2 -2 -2 -2",
]


def parse(text, n, scale, name):
    v = np.array(text.split(), dtype=float) / scale
    if len(v) != n:
        raise ValueError('%s: %d values for %d times' % (name, len(v), n))
    return v


panels = [
    ('node: 1', node1_time, node1_pred, 1000.0, node1_unit_time, node1_units),
    ('node: 10', node10_time, node10_pred, 1000.0, node10_unit_time, node10_units),
    ('node: 100', node100_time, node100_pred, 100.0, node100_unit_time, node100_units),
]
bottoms = [0.716, 0.377, 0.039]

fig = plt.figure(figsize=(10, 7.46), dpi=100)

for (title, t_pred, preds, scale, t_unit, units), b in zip(panels, bottoms):
    # left: predictions for every horizon
    ax = fig.add_axes([0.053, b, 0.402, 0.264])
    for j, s in enumerate(preds):
        ax.plot(t_pred, parse(s, len(t_pred), scale, title + ' ' + horizons[j]), lw=0.8, label=horizons[j])
    ax.set_title(title, fontsize=9.1, pad=2)
    ax.set_xlabel('Time', fontsize=7.4, labelpad=1)
    ax.set_ylabel('velocity(Normalized)', fontsize=7.4, labelpad=2)
    ax.tick_params(labelsize=7.2)
    ax.set_xticks([0, 25, 50, 75, 100, 125, 150, 175, 200])
    ax.grid(True)
    ax.legend(loc='lower right', fontsize=5.5, labelspacing=0.38)

    # right: hidden-unit traces
    ax = fig.add_axes([0.603, b, 0.402, 0.264])
    for j, s in enumerate(units):
        ax.plot(t_unit, parse(s, len(t_unit), 100.0, title + ' unit %d' % j), lw=0.8)
    ax.set_title(title, fontsize=9.1, pad=2)
    ax.set_xlabel('Time', fontsize=7.4, labelpad=1)
    ax.set_ylabel('velocity(Normalized)', fontsize=7.4, labelpad=2)
    ax.tick_params(labelsize=7.2)
    ax.set_xticks([0, 25, 50, 75, 100, 125, 150, 175, 200])
    ax.set_yticks([-1.0, -0.75, -0.5, -0.25, 0.0, 0.25, 0.5, 0.75, 1.0])
    ax.grid(True)

fig.savefig('out.png', dpi=100)
